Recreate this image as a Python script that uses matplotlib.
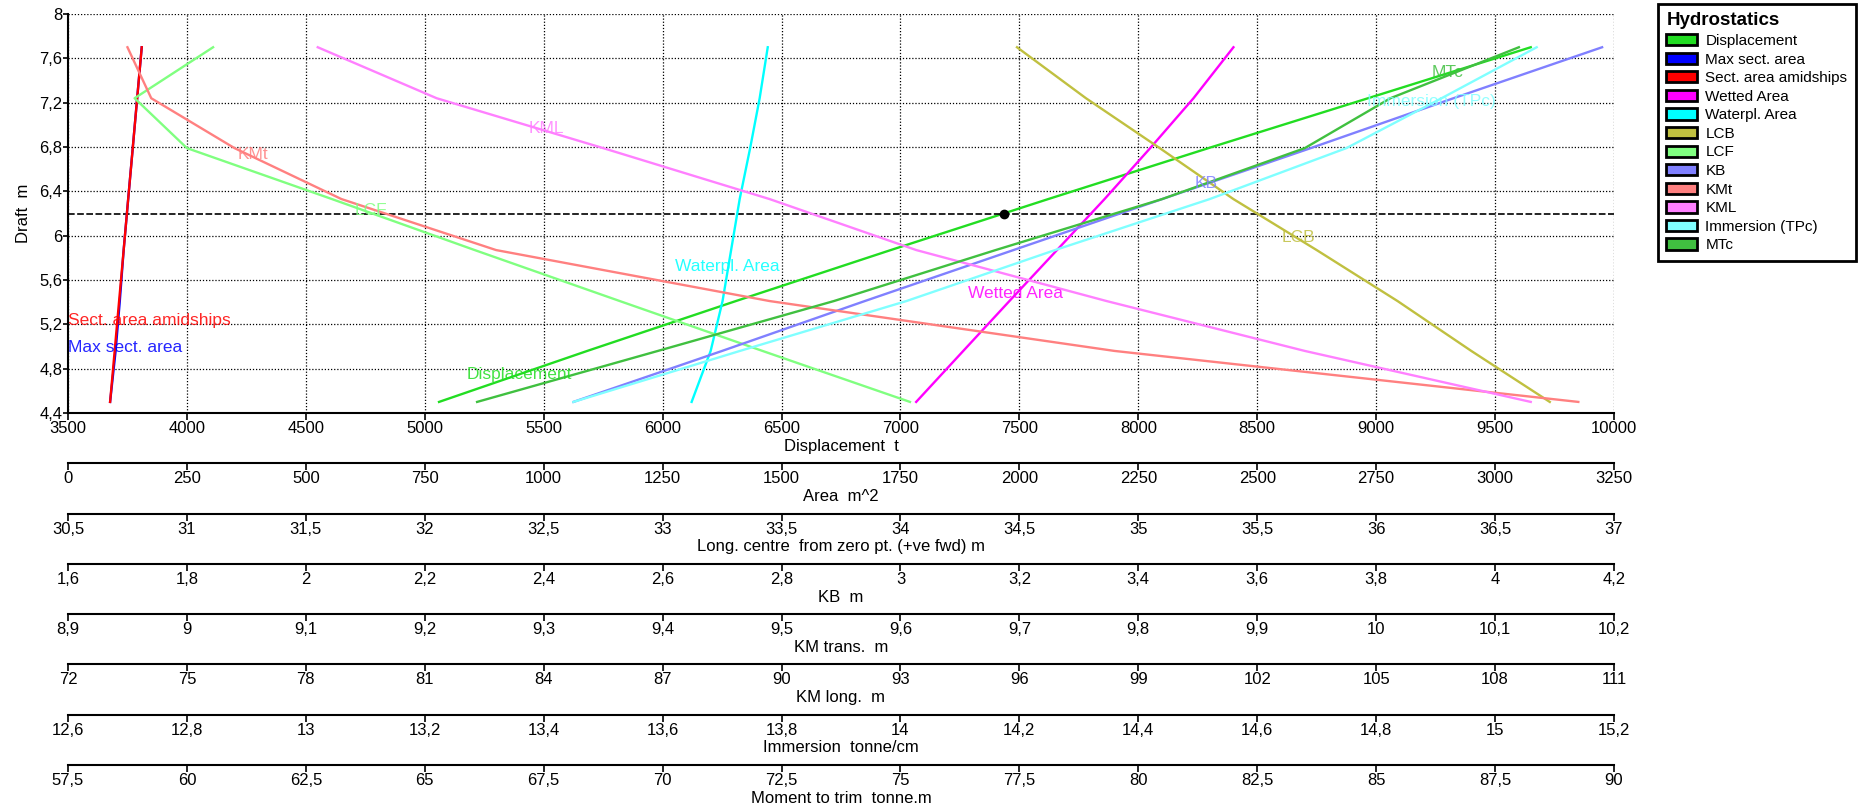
import numpy as np
import matplotlib
matplotlib.use('Agg')
import matplotlib.pyplot as plt
from matplotlib import font_manager
from matplotlib.patches import Patch
from matplotlib.ticker import FuncFormatter

plt.rcParams['font.family'] = ['Liberation Sans', 'DejaVu Sans']

# hydrostatic table, one value per draft
drafts = [4.5, 4.96, 5.41, 5.87, 6.33, 6.79, 7.24, 7.7]
displacement = [5060, 5683, 6308, 6959, 7621, 8295, 8966, 9650]          # t
max_sect_area = [88.5, 100.1, 108.9, 117.0, 126.5, 136.1, 145.4, 155.0]  # m^2
sect_area_amid = [88.5, 98.1, 107.4, 117.0, 126.5, 136.1, 145.4, 155.0]  # m^2
wetted_area = [1783, 1882, 1979, 2079, 2179, 2275, 2366, 2450]           # m^2
waterpl_area = [1311, 1351, 1376, 1394, 1412, 1434, 1454, 1471]          # m^2
lcb = [36.73, 36.40, 36.09, 35.75, 35.40, 35.09, 34.78, 34.49]           # m
lcf = [34.04, 33.42, 32.82, 32.21, 31.61, 31.00, 30.78, 31.11]           # m
kb = [2.45, 2.70, 2.94, 3.19, 3.44, 3.69, 3.93, 4.18]                    # m
kmt = [10.17, 9.78, 9.49, 9.26, 9.13, 9.04, 8.97, 8.95]                  # m
kml = [108.9, 103.2, 98.2, 93.4, 89.7, 85.5, 81.3, 78.3]                 # m
immersion = [13.45, 13.73, 14.01, 14.26, 14.52, 14.75, 14.91, 15.07]     # tonne/cm
mtc = [66.1, 69.9, 73.6, 77.0, 80.5, 83.5, 85.3, 88.0]                   # tonne.m

design_draft = 6.2

# axis scales
disp_lim = (3500, 10000)
area_lim = (0, 3250)
long_lim = (30.5, 37)
kb_lim = (1.6, 4.2)
kmt_lim = (8.9, 10.2)
kml_lim = (72, 111)
imm_lim = (12.6, 15.2)
mtc_lim = (57.5, 90)
draft_lim = (4.4, 8)

colors = {
    'Displacement': '#22dd22',
    'Max sect. area': '#0000ff',
    'Sect. area amidships': '#ff0000',
    'Wetted Area': '#ff00ff',
    'Waterpl. Area': '#00ffff',
    'LCB': '#c0c040',
    'LCF': '#80ff80',
    'KB': '#8080ff',
    'KMt': '#ff8080',
    'KML': '#ff80ff',
    'Immersion (TPc)': '#80ffff',
    'MTc': '#40c040',
}

# tick numbers look condensed in the original, use the narrow face if there is one
installed = {f.name for f in font_manager.fontManager.ttflist}
if 'Liberation Sans Narrow' in installed:
    tick_family, tick_size = 'Liberation Sans Narrow', 13.5
else:
    tick_family, tick_size = 'Liberation Sans', 12

comma = FuncFormatter(lambda v, pos: f'{v:g}'.replace('.', ','))

fig = plt.figure(figsize=(18.65, 8.1), dpi=100)
ax = fig.add_axes([68 / 1865, 397 / 810, 1546 / 1865, 399 / 810])


def style_scale(a, lims, label, offset):
    a.set_xlim(lims)
    a.set_xticks(np.linspace(lims[0], lims[1], 14))
    a.xaxis.set_major_formatter(comma)
    a.xaxis.tick_bottom()
    a.xaxis.set_label_position('bottom')
    a.set_xlabel(label, fontsize=12, labelpad=2)
    a.tick_params(axis='x', direction='out', length=4.8, width=1.2, pad=1,
                  labelsize=tick_size, labelfontfamily=tick_family)
    for s in ['top', 'right', 'left']:
        a.spines[s].set_visible(False)
    a.spines['bottom'].set_linewidth(1.5)
    if offset:
        a.spines['bottom'].set_position(('outward', offset))


# main axes: displacement vs draft
style_scale(ax, disp_lim, 'Displacement  t', 0)
ax.set_ylim(draft_lim)
ax.set_yticks(np.linspace(draft_lim[0], draft_lim[1], 10))
ax.yaxis.set_major_formatter(comma)
ax.tick_params(axis='y', direction='out', length=3.6, width=1.2, pad=0.5,
               labelsize=tick_size, labelfontfamily=tick_family)
ax.spines['left'].set_visible(True)
ax.spines['left'].set_linewidth(1.5)
ax.set_ylabel('Draft  m', fontsize=12, labelpad=6)
ax.grid(True, color='black', linestyle=(0, (1, 1.5)), linewidth=0.9)

ax.plot(displacement, drafts, color=colors['Displacement'], lw=1.7)

# one twin per unit, stacked scales below
step = 36.2
t_area = ax.twiny()
style_scale(t_area, area_lim, 'Area  m^2', step)
t_long = ax.twiny()
style_scale(t_long, long_lim, 'Long. centre  from zero pt. (+ve fwd) m', 2 * step)
t_kb = ax.twiny()
style_scale(t_kb, kb_lim, 'KB  m', 3 * step)
t_kmt = ax.twiny()
style_scale(t_kmt, kmt_lim, 'KM trans.  m', 4 * step)
t_kml = ax.twiny()
style_scale(t_kml, kml_lim, 'KM long.  m', 5 * step)
t_imm = ax.twiny()
style_scale(t_imm, imm_lim, 'Immersion  tonne/cm', 6 * step)
t_mtc = ax.twiny()
style_scale(t_mtc, mtc_lim, 'Moment to trim  tonne.m', 7 * step)

t_area.plot(max_sect_area, drafts, color=colors['Max sect. area'], lw=1.7)
t_area.plot(sect_area_amid, drafts, color=colors['Sect. area amidships'], lw=1.7)
t_area.plot(wetted_area, drafts, color=colors['Wetted Area'], lw=1.7)
t_area.plot(waterpl_area, drafts, color=colors['Waterpl. Area'], lw=1.7)
t_long.plot(lcb, drafts, color=colors['LCB'], lw=1.7)
t_long.plot(lcf, drafts, color=colors['LCF'], lw=1.7)
t_kb.plot(kb, drafts, color=colors['KB'], lw=1.7)
t_kmt.plot(kmt, drafts, color=colors['KMt'], lw=1.7)
t_kml.plot(kml, drafts, color=colors['KML'], lw=1.7)
t_imm.plot(immersion, drafts, color=colors['Immersion (TPc)'], lw=1.7)
t_mtc.plot(mtc, drafts, color=colors['MTc'], lw=1.7)

# design waterline and its displacement
ax.axhline(design_draft, color='black', lw=1.2, linestyle=(0, (4, 1.5)))
t_mtc.plot(np.interp(design_draft, drafts, displacement), design_draft, 'o',
           color='black', ms=6, transform=ax.transData)

# curve names written next to the curves (displacement / draft coordinates)
ax_labels = [
    ('Sect. area amidships', 3500, 5.235),
    ('Max sect. area', 3500, 4.99),
    ('KMt', 4215, 6.73),
    ('KML', 5438, 6.97),
    ('LCF', 4707, 6.23),
    ('Displacement', 5175, 4.75),
    ('Waterpl. Area', 6050, 5.72),
    ('Wetted Area', 7284, 5.48),
    ('KB', 8238, 6.47),
    ('LCB', 8603, 5.98),
    ('MTc', 9233, 7.47),
    ('Immersion (TPc)', 8960, 7.21),
]
for name, x, y in ax_labels:
    t_mtc.text(x, y, name, color=colors[name], fontsize=12.5, ha='left', va='center',
               alpha=0.85, transform=ax.transData)

handles = [Patch(facecolor=c, edgecolor='black', linewidth=2) for c in colors.values()]
leg = fig.legend(handles, list(colors.keys()), loc='upper left',
                 bbox_to_anchor=(1658 / 1865, 1 - 4 / 810), borderaxespad=0,
                 title='Hydrostatics', title_fontproperties={'weight': 'bold', 'size': 13.5},
                 alignment='left', fontsize=11, frameon=True, fancybox=False,
                 framealpha=1, edgecolor='black', handlelength=2.0, handleheight=0.75,
                 handletextpad=0.55, labelspacing=0.3, borderpad=0.55)
leg.get_frame().set_linewidth(2)

fig.savefig('out.png', dpi=100)
